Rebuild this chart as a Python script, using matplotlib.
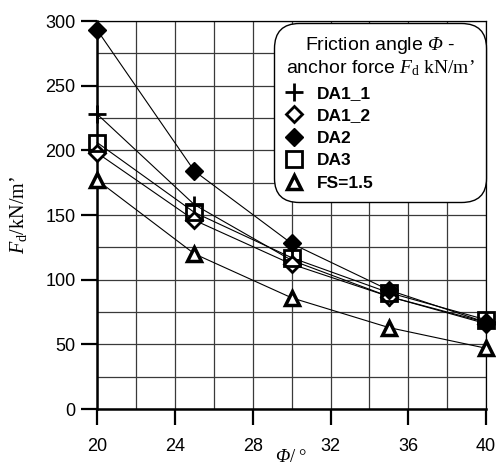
import matplotlib.pyplot as plt
from matplotlib.ticker import MultipleLocator

plt.rcParams['font.family'] = ['Liberation Sans', 'DejaVu Sans']
plt.rcParams['mathtext.fontset'] = 'custom'
plt.rcParams['mathtext.rm'] = 'Liberation Serif'
plt.rcParams['mathtext.it'] = 'Liberation Serif:italic'
plt.rcParams['mathtext.sf'] = 'Liberation Serif:italic'

# friction angle (deg) and anchor force (kN/m') per design approach
phi = [20, 25, 30, 35, 40]
da1_1 = [228, 158, 115, 87, 67]
da1_2 = [198, 146, 112, 87, 66]
da2 = [293, 184, 128, 92, 67]
da3 = [206, 152, 117, 90, 69]
fs15 = [177, 120, 86, 63, 47]

series = [
    ('DA1_1', da1_1, dict(marker='+', ms=13, mew=2, mfc='none')),
    ('DA1_2', da1_2, dict(marker='D', ms=8.5, mew=2, mfc='white')),
    ('DA2', da2, dict(marker='D', ms=9.5, mew=1, mfc='black')),
    ('DA3', da3, dict(marker='s', ms=11, mew=2, mfc='none')),
    ('FS=1.5', fs15, dict(marker='^', ms=9.5, mew=2.5, mfc='white')),
]

fig = plt.figure(figsize=(4.96, 4.68), dpi=100)
ax = fig.add_axes([0.196, 0.126, 0.784, 0.829])

for name, vals, style in series:
    ax.plot(phi, vals, color='black', lw=0.8, mec='black', label=name,
            clip_on=False, zorder=3, **style)

ax.set_xlim(20, 40)
ax.set_ylim(0, 300)
ax.xaxis.set_major_locator(MultipleLocator(4))
ax.xaxis.set_minor_locator(MultipleLocator(2))
ax.yaxis.set_major_locator(MultipleLocator(50))
ax.yaxis.set_minor_locator(MultipleLocator(25))
ax.grid(which='both', color='#3a3a3a', lw=0.9)
ax.set_axisbelow(True)
ax.tick_params(which='major', direction='out', length=11.5, width=1.6, labelsize=13)
ax.tick_params(axis='y', pad=4)
ax.tick_params(axis='x', pad=9)
ax.tick_params(which='minor', length=0)
ax.spines['left'].set_linewidth(1.8)
ax.spines['bottom'].set_linewidth(1.8)
ax.spines['top'].set_linewidth(0.9)
ax.spines['right'].set_linewidth(0.9)

ax.set_xlabel(r'$\mathsf{\Phi}/\ \degree$', fontsize=13.5, labelpad=-4)
ax.set_ylabel('$\\mathit{F}_\\mathrm{d}/\\mathrm{kN/m\u2019}$', fontsize=14.5, labelpad=12)

title = ('Friction angle $\\mathsf{\\Phi}$ -\n'
         'anchor force $\\mathit{F}_\\mathrm{d}\\ \\mathrm{kN/m\u2019}$')
leg = ax.legend(loc='upper right', title=title,
                prop={'weight': 'bold', 'size': 12.5}, title_fontsize=14,
                frameon=True, framealpha=1, edgecolor='black',
                handletextpad=0.8, handlelength=1.0, labelspacing=0.42,
                borderaxespad=0.0, borderpad=0.45, bbox_to_anchor=(0.99, 0.985))
leg.get_frame().set_boxstyle('round,pad=0.2,rounding_size=1.4')
leg.get_frame().set_linewidth(1.0)
leg._legend_box.align = 'left'
leg.get_title().set_multialignment('center')
for h in leg.legend_handles:
    h.set_linestyle('None')

fig.savefig('out.png', dpi=100)
